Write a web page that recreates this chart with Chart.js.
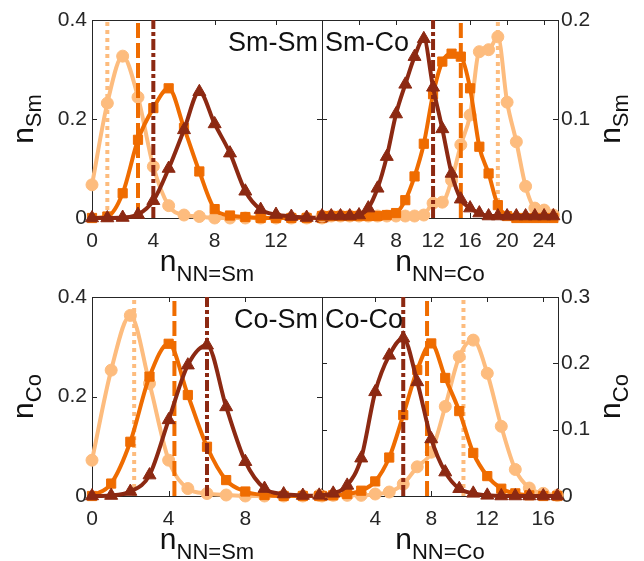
<!DOCTYPE html>
<html><head><meta charset="utf-8">
<script src="https://cdn.jsdelivr.net/npm/chart.js@4.4.1/dist/chart.umd.min.js"></script>
<style>
html,body{margin:0;padding:0;background:#fff;}
#wrap{position:relative;width:644px;height:561px;overflow:hidden;background:#fff;}
canvas{position:absolute;left:0;top:0;}
</style></head><body>
<div id="wrap">
<canvas id="cTL" width="644" height="561"></canvas>
<canvas id="cTR" width="644" height="561"></canvas>
<canvas id="cBL" width="644" height="561"></canvas>
<canvas id="cBR" width="644" height="561"></canvas>
</div>
<script>
// ---------------- DATA ----------------
// Sm-Sm panel (n_NN=Sm for Sm atoms)
const smSmN      = [0,1,2,3,4,5,6,7,8,9,10,11,12,13,14,15];
const smSmLight  = [0.067,0.232,0.327,0.244,0.104,0.025,0.006,0.003,0,0,0,0,0,0,0,0];
const smSmOrange = [0,0.003,0.050,0.158,0.222,0.262,0.182,0.094,0.018,0.005,0.002,0,0,0,0,0];
const smSmDark   = [0,0,0.001,0.007,0.035,0.100,0.178,0.255,0.190,0.131,0.054,0.017,0.007,0.003,0.001,0];
const smSmMeans  = [1, 3, 4];           // light, orange, dark
const smSmXTicks = [0,4,8,12];
const smSmYTicks = [0,0.2,0.4];

// Sm-Co panel (n_NN=Co for Sm atoms)
const smCoN      = [0,1,2,3,4,5,6,7,8,9,10,11,12,13,14,15,16,17,18,19,20,21,22,23,24,25];
const smCoLight  = [0.002,0.002,0.002,0.002,0.002,0.002,0.002,0.002,0.002,0.002,0.002,0.003,0.015,0.016,0.038,0.074,0.104,0.168,0.170,0.183,0.117,0.077,0.032,0.010,0.008,0.003];
const smCoOrange = [0.002,0.002,0.002,0.002,0.002,0.002,0.002,0.003,0.005,0.018,0.042,0.075,0.125,0.158,0.166,0.163,0.131,0.072,0.045,0.013,0.002,0,0,0,0,0];
const smCoDark   = [0.002,0.002,0.002,0.002,0.003,0.010,0.030,0.062,0.105,0.135,0.163,0.181,0.132,0.090,0.045,0.019,0.010,0.005,0.002,0.002,0.002,0.002,0.002,0.002,0.002,0.002];
const smCoMeans  = [19, 15, 12];
const smCoXTicks = [4,8,12,16,20,24];
const smCoYTicks = [0,0.1,0.2];

// Co-Sm panel (n_NN=Sm for Co atoms)
const coSmN      = [0,1,2,3,4,5,6,7,8,9,10,11,12];
const coSmLight  = [0.072,0.253,0.363,0.226,0.072,0.015,0.005,0.002,0,0,0,0,0];
const coSmOrange = [0,0.025,0.109,0.240,0.306,0.203,0.099,0.032,0.009,0.002,0,0,0];
const coSmDark   = [0,0.001,0.009,0.042,0.153,0.263,0.303,0.179,0.069,0.015,0.004,0.001,0];
const coSmMeans  = [2.2, 4.3, 6.0];
const coSmXTicks = [0,4,8];
const coSmYTicks = [0,0.2,0.4];

// Co-Co panel (n_NN=Co for Co atoms)
const coCoN      = [0,1,2,3,4,5,6,7,8,9,10,11,12,13,14,15,16,17];
const coCoLight  = [0.001,0.001,0.001,0.001,0.003,0.006,0.018,0.044,0.066,0.135,0.210,0.235,0.185,0.105,0.040,0.012,0.004,0.001];
const coCoOrange = [0,0.001,0.003,0.008,0.022,0.058,0.122,0.190,0.230,0.178,0.128,0.065,0.030,0.011,0.004,0.001,0,0];
const coCoDark   = [0.001,0.004,0.016,0.057,0.157,0.212,0.238,0.172,0.086,0.036,0.011,0.004,0.001,0,0,0,0,0];
const coCoMeans  = [10.3, 7.7, 6.0];
const coCoXTicks = [4,8,12,16];
const coCoYTicks = [0,0.1,0.2,0.3];

// ---------------- STYLE ----------------
const FONT = '"Liberation Sans", Arial, Helvetica, sans-serif';
const INK = '#262626';
const C_LIGHT = '#FDBC7E';
const C_ORANGE = '#EF6C00';
const C_DARK = '#8C2912';

const deco = {
  id: 'deco',
  beforeDatasetsDraw(chart, args, o) {
    const ctx = chart.ctx, a = chart.chartArea;
    const xs = chart.scales.x, ys = chart.scales.y;
    ctx.save();
    ctx.strokeStyle = INK; ctx.lineWidth = 1;
    ctx.strokeRect(Math.round(a.left) + 0.5, Math.round(a.top) + 0.5, Math.round(a.right - a.left), Math.round(a.bottom - a.top));
    ctx.beginPath();
    xs.ticks.forEach(t => {
      const px = Math.round(xs.getPixelForValue(t.value)) + 0.5;
      ctx.moveTo(px, a.bottom); ctx.lineTo(px, a.bottom - 5);
      ctx.moveTo(px, a.top); ctx.lineTo(px, a.top + 5);
    });
    ys.ticks.forEach(t => {
      const py = Math.round(ys.getPixelForValue(t.value)) + 0.5;
      ctx.moveTo(a.left, py); ctx.lineTo(a.left + 5, py);
      ctx.moveTo(a.right, py); ctx.lineTo(a.right - 5, py);
    });
    ctx.stroke();
    ctx.restore();
  },
  afterDraw(chart, args, o) {
    const ctx = chart.ctx, a = chart.chartArea;
    ctx.save();
    ctx.fillStyle = '#111';
    ctx.textBaseline = 'alphabetic';
    // panel name
    ctx.font = '27px ' + FONT;
    ctx.textAlign = o.nameAlign;
    ctx.fillText(o.name, o.nameAlign === 'right' ? a.right - 4 : a.left + 3, a.top + 31);
    ctx.textAlign = 'left';
    // x label
    ctx.font = '30px ' + FONT;
    const wM = ctx.measureText(o.xMain).width;
    ctx.font = '22px ' + FONT;
    const wS = ctx.measureText(o.xSub).width;
    const cx = (a.left + a.right) / 2;
    const sx = cx - (wM + wS) / 2;
    const by = a.bottom + 53;
    ctx.font = '30px ' + FONT;
    ctx.fillText(o.xMain, sx, by);
    ctx.font = '22px ' + FONT;
    ctx.fillText(o.xSub, sx + wM, by + 10);
    // y label (rotated)
    ctx.font = '30px ' + FONT;
    const yM = ctx.measureText(o.yMain).width;
    ctx.font = '22px ' + FONT;
    const yS = ctx.measureText(o.ySub).width;
    const cy = (a.top + a.bottom) / 2;
    ctx.translate(o.yBase, cy);
    ctx.rotate(-Math.PI / 2);
    const tx = -(yM + yS) / 2;
    ctx.font = '30px ' + FONT;
    ctx.fillText(o.yMain, tx, 0);
    ctx.font = '22px ' + FONT;
    ctx.fillText(o.ySub, tx + yM, 8);
    ctx.restore();
  }
};

function curve(xs, ys, color, style, radius, order) {
  return {
    data: xs.map((x, i) => ({x: x, y: ys[i]})),
    borderColor: color, backgroundColor: color,
    borderWidth: 4, pointStyle: style, pointRadius: radius,
    pointBorderWidth: 1, pointBackgroundColor: color, pointBorderColor: color,
    cubicInterpolationMode: 'monotone', clip: false, order: order
  };
}
function vline(v, yMax, color, dash, order) {
  return {
    data: [{x: v, y: 0}, {x: v, y: yMax}],
    borderColor: color, borderWidth: 4, borderDash: dash, borderCapStyle: 'butt',
    pointRadius: 0, clip: false, order: order
  };
}

function makePanel(id, p) {
  const yMax = p.yRange[1];
  const datasets = [
    vline(p.means[0], yMax, C_LIGHT, [4, 4], 6),
    curve(p.n, p.light, C_LIGHT, 'circle', 6, 5),
    vline(p.means[1], yMax, C_ORANGE, [15, 5], 4),
    curve(p.n, p.orange, C_ORANGE, 'rect', 6.5, 3),
    vline(p.means[2], yMax, C_DARK, [11, 3, 4, 3], 2),
    curve(p.n, p.dark, C_DARK, 'triangle', 7.5, 1)
  ];
  const right = p.side === 'right';
  const YW = 60, XH = 40;
  const g = p.box; // [left, right, top, bottom]
  const padding = right
    ? {left: g[0], right: 644 - g[1] - YW, top: g[2], bottom: 561 - g[3] - XH}
    : {left: g[0] - YW, right: 644 - g[1], top: g[2], bottom: 561 - g[3] - XH};
  new Chart(document.getElementById(id), {
    type: 'line',
    data: {datasets: datasets},
    options: {
      responsive: false, animation: false, events: [],
      layout: {padding: padding},
      plugins: {
        legend: {display: false}, tooltip: {enabled: false},
        deco: {name: p.name, nameAlign: right ? 'left' : 'right', xMain: 'n', xSub: p.xSub,
               yMain: 'n', ySub: p.ySub, yBase: right ? 620 : 33}
      },
      scales: {
        x: {
          type: 'linear', min: p.xRange[0], max: p.xRange[1],
          grid: {display: false, drawTicks: false}, border: {display: false},
          afterBuildTicks: s => { s.ticks = p.xTicks.map(v => ({value: v})); },
          afterFit: s => { s.height = XH; },
          ticks: {autoSkip: false, maxRotation: 0, padding: 11, color: INK,
                  font: {size: 21, family: FONT}, callback: v => String(v)}
        },
        y: {
          type: 'linear', position: p.side, min: p.yRange[0], max: p.yRange[1],
          grid: {display: false, drawTicks: false}, border: {display: false},
          afterBuildTicks: s => { s.ticks = p.yTicks.map(v => ({value: v})); },
          afterFit: s => { s.width = YW; },
          ticks: {padding: right ? 3 : 5, color: INK, font: {size: 21, family: FONT},
                  callback: v => String(v)}
        }
      }
    },
    plugins: [deco]
  });
}

makePanel('cTL', {name: 'Sm-Sm', side: 'left', box: [92, 322, 20, 218], n: smSmN,
  light: smSmLight, orange: smSmOrange, dark: smSmDark, means: smSmMeans,
  xRange: [0, 15], yRange: [0, 0.4], xTicks: smSmXTicks, yTicks: smSmYTicks,
  xSub: 'NN=Sm', ySub: 'Sm'});
makePanel('cTR', {name: 'Sm-Co', side: 'right', box: [322, 558, 20, 218], n: smCoN,
  light: smCoLight, orange: smCoOrange, dark: smCoDark, means: smCoMeans,
  xRange: [0, 25.5], yRange: [0, 0.2], xTicks: smCoXTicks, yTicks: smCoYTicks,
  xSub: 'NN=Co', ySub: 'Sm'});
makePanel('cBL', {name: 'Co-Sm', side: 'left', box: [92, 322, 297, 496], n: coSmN,
  light: coSmLight, orange: coSmOrange, dark: coSmDark, means: coSmMeans,
  xRange: [0, 12], yRange: [0, 0.4], xTicks: coSmXTicks, yTicks: coSmYTicks,
  xSub: 'NN=Sm', ySub: 'Co'});
makePanel('cBR', {name: 'Co-Co', side: 'right', box: [322, 558, 297, 496], n: coCoN,
  light: coCoLight, orange: coCoOrange, dark: coCoDark, means: coCoMeans,
  xRange: [0.2, 17.05], yRange: [0, 0.3], xTicks: coCoXTicks, yTicks: coCoYTicks,
  xSub: 'NN=Co', ySub: 'Co'});
</script>
</body></html>
